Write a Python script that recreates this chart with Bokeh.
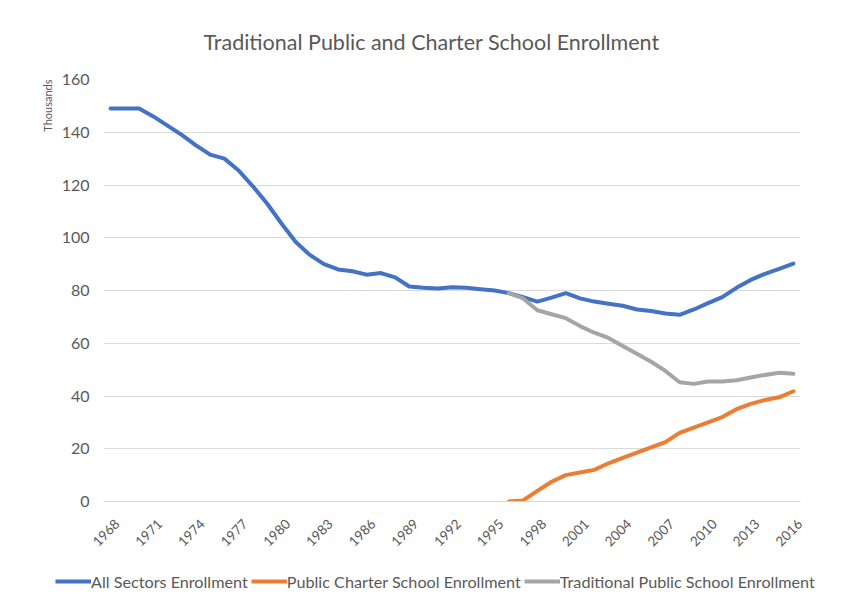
import math
from bokeh.plotting import figure
from bokeh.models import (Range1d, FixedTicker, CustomJSTickFormatter, Title,
                          Legend, LegendItem)
from bokeh.embed import file_html
from bokeh.resources import INLINE

# ---------------- data ----------------
years_all = list(range(1968, 2017))
all_sectors = [149, 149, 149, 146, 142.5, 139, 135, 131.5, 130, 125.5,
               119.5, 113, 105.5, 98.5, 93.5, 90, 88, 87.3, 86, 86.6,
               85, 81.5, 81, 80.8, 81.2, 81, 80.5, 80, 79, 77.5,
               75.8, 77.3, 79, 77, 75.8, 75, 74.2, 72.8, 72.2, 71.3,
               70.8, 72.8, 75.2, 77.5, 81, 84, 86.3, 88.2, 90.2]

years_new = list(range(1996, 2017))
charter = [0, 0.4, 4, 7.5, 10, 11, 12, 14.5, 16.5, 18.5,
           20.5, 22.5, 26, 28, 30, 32, 35, 37, 38.5, 39.5, 41.8]
traditional = [79, 77, 72.5, 71, 69.5, 66.5, 64, 62, 59, 56,
               53, 49.5, 45.2, 44.6, 45.5, 45.5, 46, 47, 48, 48.8, 48.4]

tick_years = list(range(1968, 2017, 3))
y_ticks = [0, 20, 40, 60, 80, 100, 120, 140, 160]

title_text = "Traditional Public and Charter School Enrollment"
y_label = "Thousands"
series_names = ["All Sectors Enrollment", "Public Charter School Enrollment",
                "Traditional Public School Enrollment"]
colors = ["#4472C4", "#ED7D31", "#A5A5A5"]

FONT = "Lato"
TXT = "#595959"
X0, X1 = 1967.5, 2016.5
LABEL_SHIFT = 0.45   # rotated year labels sit a little right of their point

# ---------------- main chart ----------------
p = figure(width=851, height=556, output_backend="svg", toolbar_location=None,
           x_range=Range1d(X0, X1), y_range=Range1d(0, 160),
           min_border_left=103, min_border_right=51, min_border_top=79,
           min_border_bottom=55, background_fill_color="white",
           border_fill_color="white")
p.outline_line_color = None

for xs, ys, c in [(years_all, all_sectors, colors[0]),
                  (years_new, traditional, colors[2]),
                  (years_new, charter, colors[1])]:
    p.line(xs, ys, line_width=4, color=c, line_join="round", line_cap="round")

p.xaxis.ticker = FixedTicker(ticks=[y + LABEL_SHIFT for y in tick_years])
p.xaxis.formatter = CustomJSTickFormatter(
    code="return Math.round(tick - %s).toString();" % LABEL_SHIFT)
p.xaxis.major_label_orientation = math.pi / 4
p.xaxis.major_tick_line_color = None
p.xaxis.minor_tick_line_color = None
p.xaxis.major_tick_out = 0
p.xaxis.major_tick_in = 0
p.xaxis.axis_line_color = "#d9d9d9"
p.xaxis.major_label_standoff = 20
p.xaxis.major_label_text_font = FONT
p.xaxis.major_label_text_font_size = "13.5px"
p.xaxis.major_label_text_color = TXT

p.yaxis.ticker = FixedTicker(ticks=y_ticks)
p.yaxis.major_tick_line_color = None
p.yaxis.minor_tick_line_color = None
p.yaxis.major_tick_out = 0
p.yaxis.major_tick_in = 0
p.yaxis.axis_line_color = None
p.yaxis.major_label_standoff = 14
p.yaxis.major_label_text_font = FONT
p.yaxis.major_label_text_font_size = "16px"
p.yaxis.major_label_text_color = TXT

p.xgrid.grid_line_color = None
p.ygrid.grid_line_color = "#d9d9d9"
p.ygrid.grid_line_width = 1

p.title.text = title_text
p.title.align = "left"
p.title.offset = 100
p.title.standoff = 49
p.title.text_font = FONT
p.title.text_font_size = "21.5px"
p.title.text_font_style = "normal"
p.title.text_color = TXT

ylab = Title(text=y_label, align="right", vertical_align="middle",
             standoff=8, text_font=FONT, text_font_size="11px",
             text_font_style="normal", text_color=TXT)
p.add_layout(ylab, "left")

# ---------------- legend strip (separate root, full-width frame) ----------------
lg = figure(width=851, height=48, output_backend="svg", toolbar_location=None,
            x_range=Range1d(0, 1), y_range=Range1d(0, 1),
            x_axis_location=None, y_axis_location=None,
            min_border_left=0, min_border_right=0, min_border_top=0,
            min_border_bottom=0, background_fill_color="white",
            border_fill_color="white")
lg.outline_line_color = None
lg.xgrid.visible = False
lg.ygrid.visible = False
items = []
for name, c in zip(series_names, colors):
    # proxy renderers lie outside the strip's range; only their legend swatch shows
    r = lg.line(x=[-3, -2], y=[-3, -2], line_width=4, color=c)
    items.append(LegendItem(label=name, renderers=[r]))
legend = Legend(items=items, orientation="horizontal", location=(55, 13),
                glyph_width=36, glyph_height=20, label_standoff=0, spacing=3,
                padding=0, margin=0, border_line_color=None,
                background_fill_alpha=0,
                label_text_font=FONT, label_text_font_size="16.2px",
                label_text_color=TXT)
lg.add_layout(legend, "center")

open("out.html", "w").write(file_html([p, lg], INLINE))
